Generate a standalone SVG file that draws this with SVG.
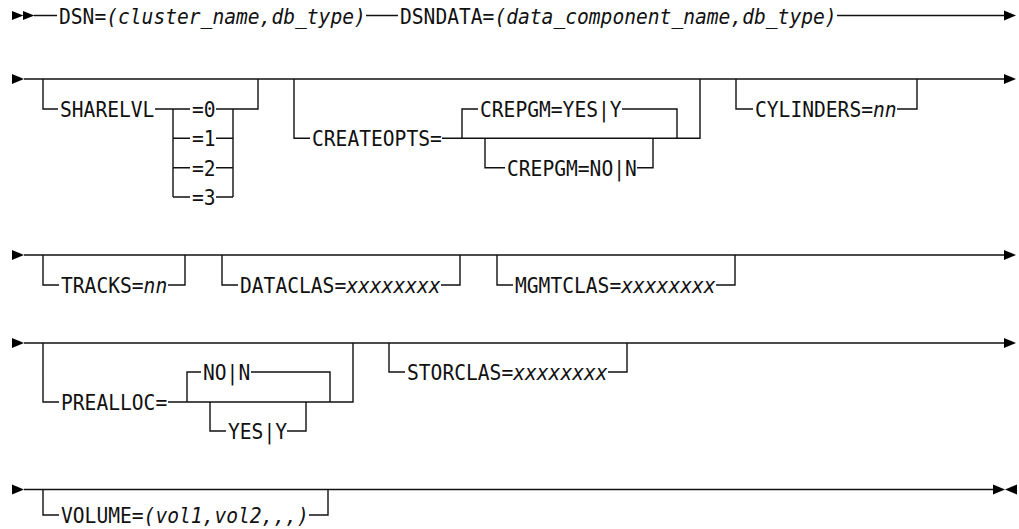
<svg xmlns="http://www.w3.org/2000/svg" width="1019" height="529" viewBox="0 0 1019 529">
<defs>
<style>
.ln{fill:none;stroke:#111;stroke-width:1.4}
.ah{fill:#000}
text{font-family:"DejaVu Sans Mono","Liberation Mono",monospace;font-size:20.5px;fill:#111}
.v{font-style:italic}
</style>
<path id="ar" d="M0,-5 L12,0 L0,5 Z"/>
<path id="al" d="M0,0 L12,-5 L12,5 Z"/>
</defs>
<rect width="1019" height="529" fill="#fff"/>
<g id="connectors" class="ln">
<path d="M34,15.5 H57 M366,15.5 H398 M837,15.5 H1004"/>
<path d="M24,79 H1004"/>
<path d="M43,79 V109 H58 M155,109 H173 M173,109 V197 M173,109 H190 M173,138.3 H190 M173,167.7 H190 M173,197 H190 M216,109 H233 M216,138.3 H233 M216,167.7 H233 M216,197 H233 M233,109 V197 M233,109 H258 V79"/>
<path d="M294,79 V138.3 H310 M442,138.3 H700 V79 M462,138.3 V109 H478 M622,109 H677 V138.3 M485,138.3 V167.7 H505 M637,167.7 H653 V138.3"/>
<path d="M736,79 V109 H753 M897,109 H917 V79"/>
<path d="M24,255 H1004"/>
<path d="M43,255 V285 H59 M168,285 H185 V255"/>
<path d="M222,255 V285 H238 M441,285 H460 V255"/>
<path d="M497,255 V285 H513 M716,285 H735 V255"/>
<path d="M24,343 H1004"/>
<path d="M43,343 V402 H59 M168,402 H353 V343 M187,402 V372 H201 M251,372 H330 V402 M210,402 V431 H226 M287,431 H306 V402"/>
<path d="M389,343 V372 H405 M608,372 H627 V343"/>
<path d="M24,489.5 H993"/>
<path d="M43,489.5 V515 H59 M309,515 H328 V489.5"/>
</g>
<g id="arrows" class="ah">
<use href="#ar" transform="translate(12,15.5) scale(0.95,0.9)"/>
<use href="#ar" transform="translate(23,15.5) scale(0.95,0.9)"/>
<use href="#ar" x="1004" y="15.5"/>
<use href="#ar" x="12" y="79"/>
<use href="#ar" x="1004" y="79"/>
<use href="#ar" x="12" y="255"/>
<use href="#ar" x="1004" y="255"/>
<use href="#ar" x="12" y="343"/>
<use href="#ar" x="1004" y="343"/>
<use href="#ar" x="12" y="489.5"/>
<use href="#ar" x="993" y="489.5"/>
<use href="#al" x="1005" y="489.5"/>
</g>
<g id="n-dsn"><text x="59" y="23.5" textLength="47.2" lengthAdjust="spacingAndGlyphs">DSN=</text><text class="v" x="106.2" y="23.5" textLength="259.6" lengthAdjust="spacingAndGlyphs">(cluster_name,db_type)</text></g>
<g id="n-dsndata"><text x="400" y="23.5" textLength="94.4" lengthAdjust="spacingAndGlyphs">DSNDATA=</text><text class="v" x="494.4" y="23.5" textLength="342.2" lengthAdjust="spacingAndGlyphs">(data_component_name,db_type)</text></g>
<g id="n-sharelvl"><text x="60" y="117" textLength="94.4" lengthAdjust="spacingAndGlyphs">SHARELVL</text></g>
<g id="n-s0"><text x="192" y="117" textLength="23.6" lengthAdjust="spacingAndGlyphs">=0</text></g>
<g id="n-s1"><text x="192" y="146.3" textLength="23.6" lengthAdjust="spacingAndGlyphs">=1</text></g>
<g id="n-s2"><text x="192" y="175.7" textLength="23.6" lengthAdjust="spacingAndGlyphs">=2</text></g>
<g id="n-s3"><text x="192" y="205" textLength="23.6" lengthAdjust="spacingAndGlyphs">=3</text></g>
<g id="n-createopts"><text x="312" y="146.3" textLength="129.8" lengthAdjust="spacingAndGlyphs">CREATEOPTS=</text></g>
<g id="n-crepgm-yes"><text x="480" y="117" textLength="141.6" lengthAdjust="spacingAndGlyphs">CREPGM=YES|Y</text></g>
<g id="n-crepgm-no"><text x="507" y="175.7" textLength="129.8" lengthAdjust="spacingAndGlyphs">CREPGM=NO|N</text></g>
<g id="n-cylinders"><text x="755" y="117" textLength="118" lengthAdjust="spacingAndGlyphs">CYLINDERS=</text><text class="v" x="873" y="117" textLength="23.6" lengthAdjust="spacingAndGlyphs">nn</text></g>
<g id="n-tracks"><text x="61" y="293" textLength="82.6" lengthAdjust="spacingAndGlyphs">TRACKS=</text><text class="v" x="143.6" y="293" textLength="23.6" lengthAdjust="spacingAndGlyphs">nn</text></g>
<g id="n-dataclas"><text x="240" y="293" textLength="106.2" lengthAdjust="spacingAndGlyphs">DATACLAS=</text><text class="v" x="346.2" y="293" textLength="94.4" lengthAdjust="spacingAndGlyphs">xxxxxxxx</text></g>
<g id="n-mgmtclas"><text x="515" y="293" textLength="106.2" lengthAdjust="spacingAndGlyphs">MGMTCLAS=</text><text class="v" x="621.2" y="293" textLength="94.4" lengthAdjust="spacingAndGlyphs">xxxxxxxx</text></g>
<g id="n-prealloc"><text x="61" y="410" textLength="106.2" lengthAdjust="spacingAndGlyphs">PREALLOC=</text></g>
<g id="n-no"><text x="203" y="380" textLength="47.2" lengthAdjust="spacingAndGlyphs">NO|N</text></g>
<g id="n-yes"><text x="228" y="439" textLength="59" lengthAdjust="spacingAndGlyphs">YES|Y</text></g>
<g id="n-storclas"><text x="407" y="380" textLength="106.2" lengthAdjust="spacingAndGlyphs">STORCLAS=</text><text class="v" x="513.2" y="380" textLength="94.4" lengthAdjust="spacingAndGlyphs">xxxxxxxx</text></g>
<g id="n-volume"><text x="61" y="523" textLength="82.6" lengthAdjust="spacingAndGlyphs">VOLUME=</text><text class="v" x="143.6" y="523" textLength="165.2" lengthAdjust="spacingAndGlyphs">(vol1,vol2,,,)</text></g>
</svg>
